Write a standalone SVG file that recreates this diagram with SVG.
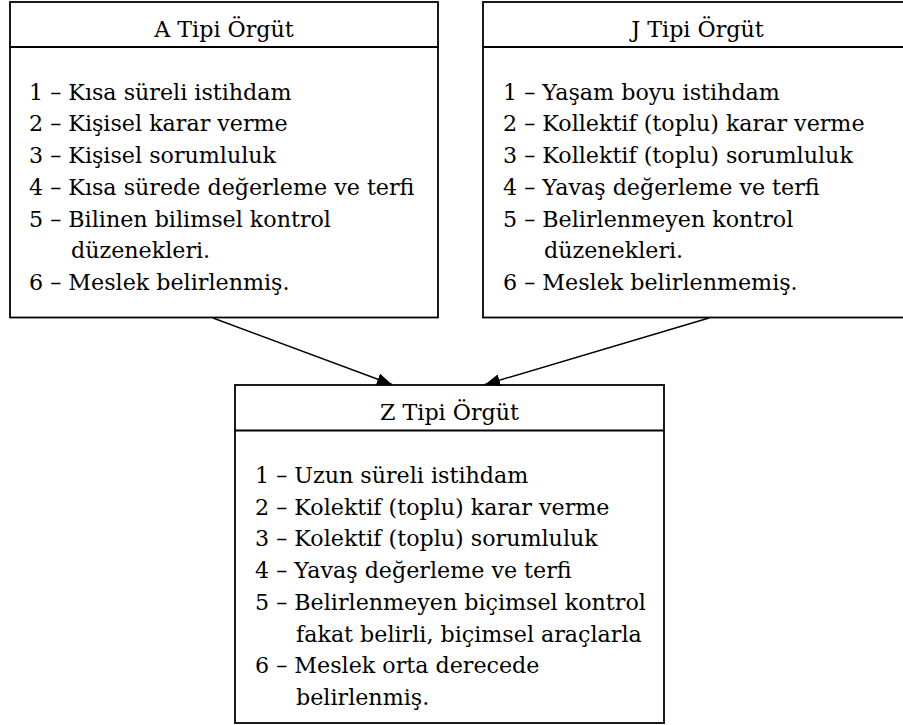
<svg xmlns="http://www.w3.org/2000/svg" width="903" height="725" viewBox="0 0 903 725">
<defs>
<style>
.box{fill:#fff;stroke:#000;stroke-width:1.8}
.div{stroke:#000;stroke-width:1.8}
.c{text-anchor:middle}
.edge{stroke:#000;stroke-width:1.4;fill:none}
</style>
<marker id="ah" markerUnits="userSpaceOnUse" markerWidth="16" markerHeight="12" refX="15" refY="6" orient="auto">
<path d="M0,0 L15,6 L0,12 z" fill="#000"/>
</marker>
</defs>
<rect width="903" height="725" fill="#fff"/>
<g font-size="22.2" font-family="DejaVu Serif, serif" fill="#000">
<g id="nodeA">
<rect class="box" x="10" y="2" width="428" height="315.5"/>
<line class="div" x1="10" y1="47" x2="438" y2="47"/>
<text class="c" x="224" y="36.5">A Tipi Örgüt</text>
<text x="29" y="99.5">1 – Kısa süreli istihdam</text>
<text x="29" y="131.2">2 – Kişisel karar verme</text>
<text x="29" y="163">3 – Kişisel sorumluluk</text>
<text x="29" y="194.7">4 – Kısa sürede değerleme ve terfi</text>
<text x="29" y="226.5">5 – Bilinen bilimsel kontrol</text>
<text x="71" y="258.2">düzenekleri.</text>
<text x="29" y="290">6 – Meslek belirlenmiş.</text>
</g>
<g id="nodeJ">
<rect class="box" x="483" y="2" width="429" height="315.5"/>
<line class="div" x1="483" y1="47" x2="912" y2="47"/>
<text class="c" x="697.5" y="36.5">J Tipi Örgüt</text>
<text x="503" y="99.5">1 – Yaşam boyu istihdam</text>
<text x="503" y="131.2">2 – Kollektif (toplu) karar verme</text>
<text x="503" y="163">3 – Kollektif (toplu) sorumluluk</text>
<text x="503" y="194.7">4 – Yavaş değerleme ve terfi</text>
<text x="503" y="226.5">5 – Belirlenmeyen kontrol</text>
<text x="544" y="258.2">düzenekleri.</text>
<text x="503" y="290">6 – Meslek belirlenmemiş.</text>
</g>
<g id="nodeZ">
<rect class="box" x="235" y="385" width="429" height="338"/>
<line class="div" x1="235" y1="430.5" x2="664" y2="430.5"/>
<text class="c" x="449.5" y="420">Z Tipi Örgüt</text>
<text x="255" y="483">1 – Uzun süreli istihdam</text>
<text x="255" y="514.7">2 – Kolektif (toplu) karar verme</text>
<text x="255" y="546.4">3 – Kolektif (toplu) sorumluluk</text>
<text x="255" y="578.1">4 – Yavaş değerleme ve terfi</text>
<text x="255" y="609.8">5 – Belirlenmeyen biçimsel kontrol</text>
<text x="296" y="641.5">fakat belirli, biçimsel araçlarla</text>
<text x="255" y="673.2">6 – Meslek orta derecede</text>
<text x="296" y="704.9">belirlenmiş.</text>
</g>
</g>
<g id="connectors">
<line class="edge" x1="213" y1="318" x2="392" y2="384.5" marker-end="url(#ah)"/>
<line class="edge" x1="709" y1="318" x2="485" y2="384.5" marker-end="url(#ah)"/>
</g>
</svg>
